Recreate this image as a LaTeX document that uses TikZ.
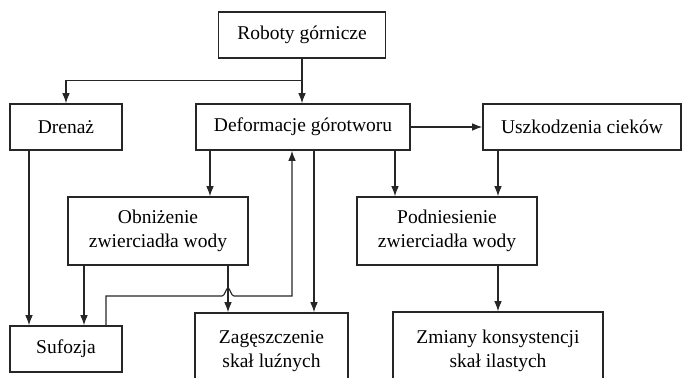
\documentclass[tikz,border=0pt]{standalone}
\usepackage{fontspec}
\setmainfont{Liberation Serif}
\usepackage{tikz}
\usetikzlibrary{arrows.meta, calc}
\tikzstyle{block} = [draw=black!85, rectangle, line width=0.9pt, align=center, inner sep=0pt, minimum height=0.92cm, font=\fontsize{11.1}{13.7}\selectfont]
\tikzstyle{tall} = [block, minimum height=1.36cm]
\tikzstyle{deep} = [block, minimum height=1.54cm]
\tikzstyle{path} = [-{Latex[length=5.7pt, width=4.3pt]}, line width=0.65pt, black!85]

\begin{document}
\begin{tikzpicture}[x=0.02cm, y=-0.02cm]
    \clip (0,0) rectangle (682,378);

    \node (roboty) [block, minimum width=3.34cm] at (302,35) {Roboty górnicze};
    \node (drenaz) [block, minimum width=2.24cm] at (66,127) {Drenaż};
    \node (deformacje) [block, minimum width=4.28cm] at (303,127) {Deformacje górotworu};
    \node (uszkodzenia) [block, minimum width=3.96cm] at (582,127) {Uszkodzenia cieków};
    \node (obnizenie) [tall, minimum width=3.6cm] at (158,231) {Obniżenie\\zwierciadła wody};
    \node (podniesienie) [tall, minimum width=3.6cm] at (447,231) {Podniesienie\\zwierciadła wody};
    \node (sufozja) [block, minimum width=2.24cm] at (66,349) {Sufozja};
    \node (zageszczenie) [deep, minimum width=3.06cm] at (271.5,351.5) {Zagęszczenie\\skał luźnych};
    \node (zmiany) [deep, minimum width=4.2cm] at (498,350.5) {Zmiany konsystencji\\skał ilastych};

    % Columns and rows of the connectors.
    \foreach \n/\x in {drain/29, left/84, suf/106, obn/210, jump/228, up/292, zag/314, pod/395, usz/498} {%
        \coordinate (x \n) at (\x,0);
    }
    \coordinate (split) at ($(roboty.south)+(0,22)$);
    \coordinate (loop row) at (0,296);

    % Arrows.
    \draw [path] (roboty.south) -- (roboty.south |- deformacje.north);
    \draw [path] (split) -| (drenaz.north);
    \draw [path] (deformacje.east) -- (uszkodzenia.west);
    \draw [path] (drenaz.south -| x drain) -- (sufozja.north -| x drain);

    \foreach \a/\b/\c in {deformacje/obnizenie/obn, deformacje/zageszczenie/zag, deformacje/podniesienie/pod,
        uszkodzenia/podniesienie/usz, podniesienie/zmiany/usz, obnizenie/sufozja/left, obnizenie/zageszczenie/jump} {%
        \draw [path] (\a.south -| x \c) -- (\b.north -| x \c);
    }

    % Feedback from Sufozja, jumping over the line below Obnizenie.
    \draw [path] (sufozja.north -| x suf) -- (x suf |- loop row)
        -- ($(x jump |- loop row)+(-6,0)$)
        .. controls +(3,0) and +(-2,0) .. ($(x jump |- loop row)+(0,-8)$)
        .. controls +(2,0) and +(-3,0) .. ($(x jump |- loop row)+(6,0)$)
        -- (x up |- loop row) -- (deformacje.south -| x up);
\end{tikzpicture}
\end{document}
